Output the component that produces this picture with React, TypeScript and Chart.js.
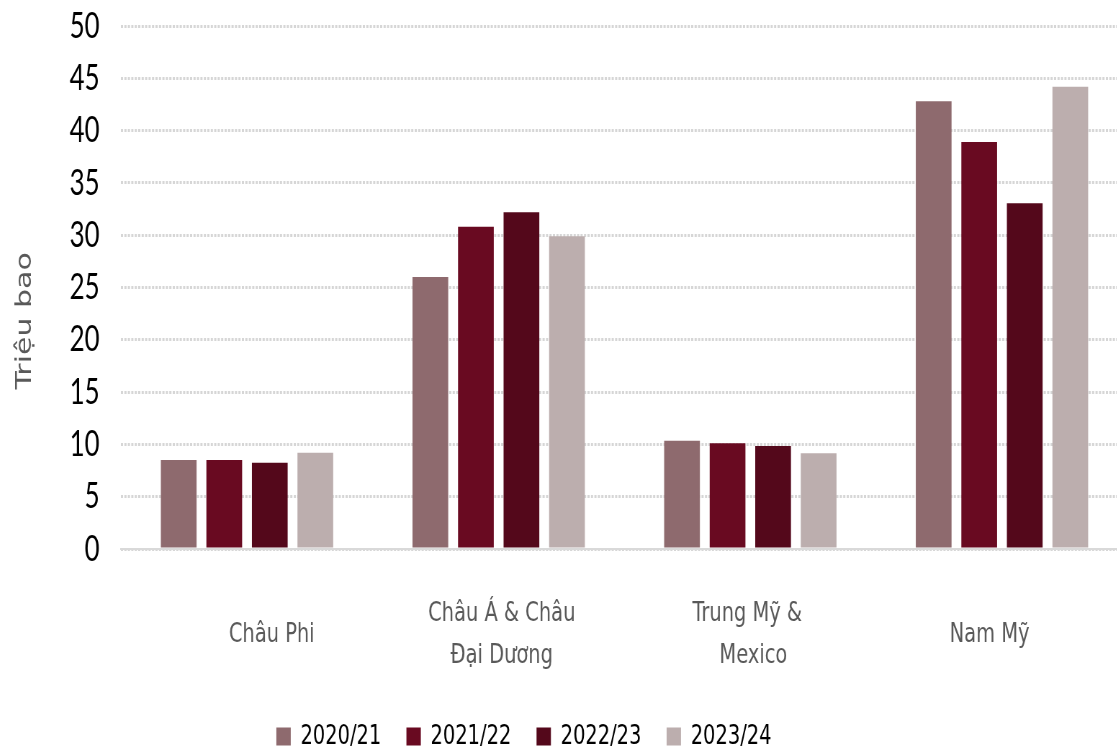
import React, { useEffect, useRef } from "react";
import { Chart, registerables } from "chart.js";

Chart.register(...registerables);

// ---- data ----
const categories: string[][] = [
  ["        Châu Phi"],
  [" Châu Á & Châu", " Đại Dương"],
  ["Trung Mỹ & ", " Mexico"],
  ["Nam Mỹ    "],
];
const seriesNames = ["2020/21", "2021/22", "2022/23", "2023/24"];
const values2020 = [8.5, 26.0, 10.35, 42.8];
const values2021 = [8.5, 30.8, 10.1, 38.9];
const values2022 = [8.25, 32.2, 9.85, 33.05];
const values2023 = [9.2, 29.9, 9.15, 44.2];
const seriesColors = ["#8E6A6E", "#690A21", "#54081B", "#BCAEAE"];
const yMin = 0;
const yMax = 50;
const yStep = 5;
const yTitle = "Triệu bao";

// ---- layout (canvas is squeezed horizontally to mimic the narrow lettering) ----
const SX = 0.72;
const OFFSET_X = -80;
const CANVAS_W = 1690;
const CANVAS_H = 752;

export default function App() {
  const ref = useRef<HTMLCanvasElement>(null);

  useEffect(() => {
    const seriesValues = [values2020, values2021, values2022, values2023];
    const chart = new Chart(ref.current as HTMLCanvasElement, {
      type: "bar",
      data: {
        labels: categories,
        datasets: seriesNames.map((name, i) => ({
          label: name,
          data: seriesValues[i],
          backgroundColor: seriesColors[i],
          borderWidth: 0,
          categoryPercentage: 0.7237,
          barPercentage: 0.785,
        })),
      },
      options: {
        animation: false,
        responsive: true,
        maintainAspectRatio: false,
        devicePixelRatio: 1,
        layout: { padding: { left: 0, right: 12.5, top: 26, bottom: 0 } },
        plugins: {
          tooltip: { enabled: false },
          legend: {
            position: "bottom",
            maxHeight: 64,
            labels: {
              boxWidth: 20,
              boxHeight: 18,
              padding: 35,
              color: "#000000",
              font: { family: "'DejaVu Sans'", size: 27 },
            },
          },
        },
        scales: {
          x: {
            grid: { display: false, drawTicks: false },
            border: { display: true, color: "#d9d9d9", width: 2 },
            ticks: {
              color: "#595959",
              padding: 65,
              crossAlign: "center",
              maxRotation: 0,
              autoSkip: false,
              font: { family: "'DejaVu Sans'", size: 27, lineHeight: 1.537 },
            },
            afterFit: (s: any) => {
              s.height = 139;
            },
          },
          y: {
            min: yMin,
            max: yMax,
            ticks: {
              stepSize: yStep,
              color: "#000000",
              padding: 2,
              font: { family: "Lato", size: 36 },
            },
            grid: {
              color: "#d6d6d6",
              lineWidth: 3,
              drawTicks: true,
              tickLength: 28,
              tickColor: "rgba(0,0,0,0)",
            },
            border: { display: false, dash: [3, 1.8] },
            title: {
              display: true,
              text: yTitle + "       ",
              color: "#595959",
              padding: { top: 128, bottom: 0 },
              font: { family: "'DejaVu Sans'", size: 30 },
            },
            afterFit: (s: any) => {
              s.width = 279.4;
            },
          },
        },
      },
    });
    return () => chart.destroy();
  }, []);

  return (
    <div
      style={{
        position: "fixed",
        left: 0,
        top: 0,
        width: 1117,
        height: 752,
        overflow: "hidden",
        background: "#ffffff",
      }}
    >
      <div
        style={{
          position: "absolute",
          left: OFFSET_X,
          top: 0,
          width: CANVAS_W,
          height: CANVAS_H,
          transform: `scaleX(${SX})`,
          transformOrigin: "0 0",
        }}
      >
        <canvas ref={ref} />
      </div>
    </div>
  );
}
